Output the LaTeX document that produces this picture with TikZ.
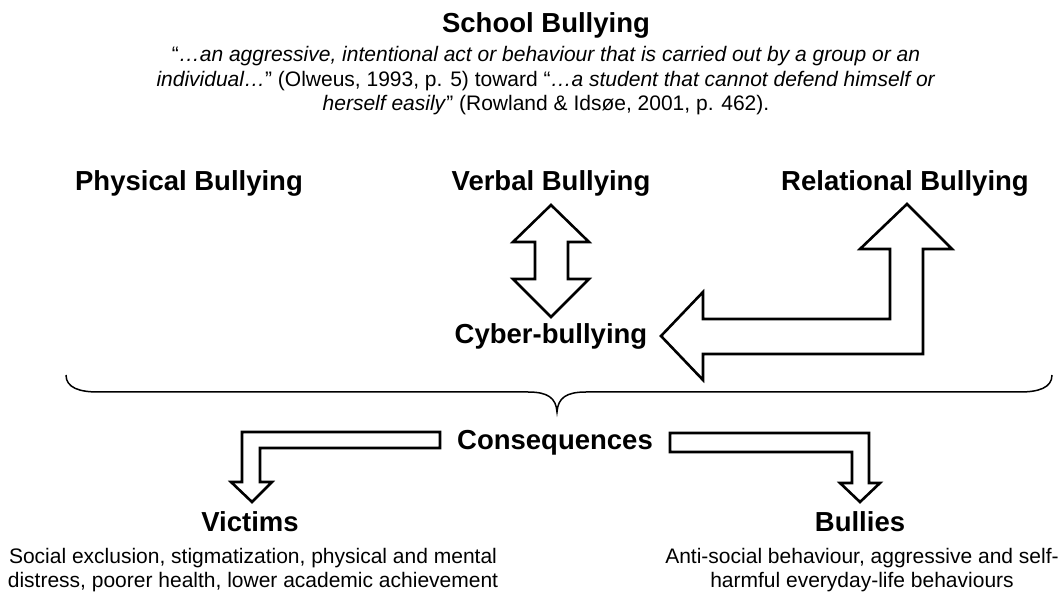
\documentclass[tikz,border=0pt]{standalone}
\usepackage{fontspec}
\setmainfont{Liberation Sans}
\usepackage{tikz}
\usetikzlibrary{positioning}

\begin{document}
\begin{tikzpicture}[
    x=1pt, y=-1pt,
    head/.style={font=\fontsize{27.5}{33}\selectfont\bfseries, inner sep=0pt, anchor=base},
    body/.style={font=\fontsize{21}{24.5}\selectfont, align=center, inner sep=0pt},
    block/.style={draw, line width=2.6pt, fill=white, line join=miter}
]
\useasboundingbox (0,0) rectangle (1061,593);

% title and definition
\node[head] (title) at (546,33) {School Bullying};
\node[body] (def) at (546,81) {“\textit{…an aggressive, intentional act or behaviour that is carried out by a group or an}\\
  \textit{individual…}” (Olweus, 1993, p. 5) toward “\textit{…a student that cannot defend himself or}\\
  \textit{herself easily}” (Rowland \& Idsøe, 2001, p. 462).};

% forms of bullying
\node[head] (physical) at (189,191) {Physical Bullying};
\node[head] (verbal) at (551,191) {Verbal Bullying};
\node[head] (relational) at (905,191) {Relational Bullying};
\node[head] (cyber) at (551,344) {Cyber-bullying};

% verbal <-> cyber
\draw[block] (551,205) -- (589,242) -- (568,242) -- (568,279) -- (589,279)
  -- (551,317) -- (513,279) -- (535,279) -- (535,242) -- (513,242) -- cycle;
% relational <-> cyber
\draw[block] (661,336) -- (703,292) -- (703,319) -- (890,319) -- (890,249)
  -- (860,249) -- (907,204) -- (952,249) -- (923,249) -- (923,354)
  -- (703,354) -- (703,380) -- cycle;

% brace over all forms
\draw[line width=1.5pt] (66,375) .. controls (66,388) and (80,392) .. (98,392)
  -- (528,392) .. controls (548,392) and (556,398) .. (557,412)
  .. controls (558,398) and (566,392) .. (586,392)
  -- (1020,392) .. controls (1038,392) and (1052,388) .. (1052,375);

% consequences
\node[head] (conseq) at (555,450) {Consequences};
\draw[block] (440,432) -- (242,432) -- (242,482) -- (231,482) -- (252,502)
  -- (272,482) -- (260,482) -- (260,448) -- (440,448) -- cycle;
\draw[block] (670,433) -- (869,433) -- (869,483) -- (880,483) -- (860,502)
  -- (840,483) -- (852,483) -- (852,452) -- (670,452) -- cycle;

\node[head] (victims) at (250,532) {Victims};
\node[head] (bullies) at (860,532) {Bullies};
\node[body] (victimtxt) at (253,570) {Social exclusion, stigmatization, physical and mental\\
  distress, poorer health, lower academic achievement};
\node[body] (bullytxt) at (862,570) {Anti-social behaviour, aggressive and self-\\
  harmful everyday-life behaviours};
\end{tikzpicture}
\end{document}
